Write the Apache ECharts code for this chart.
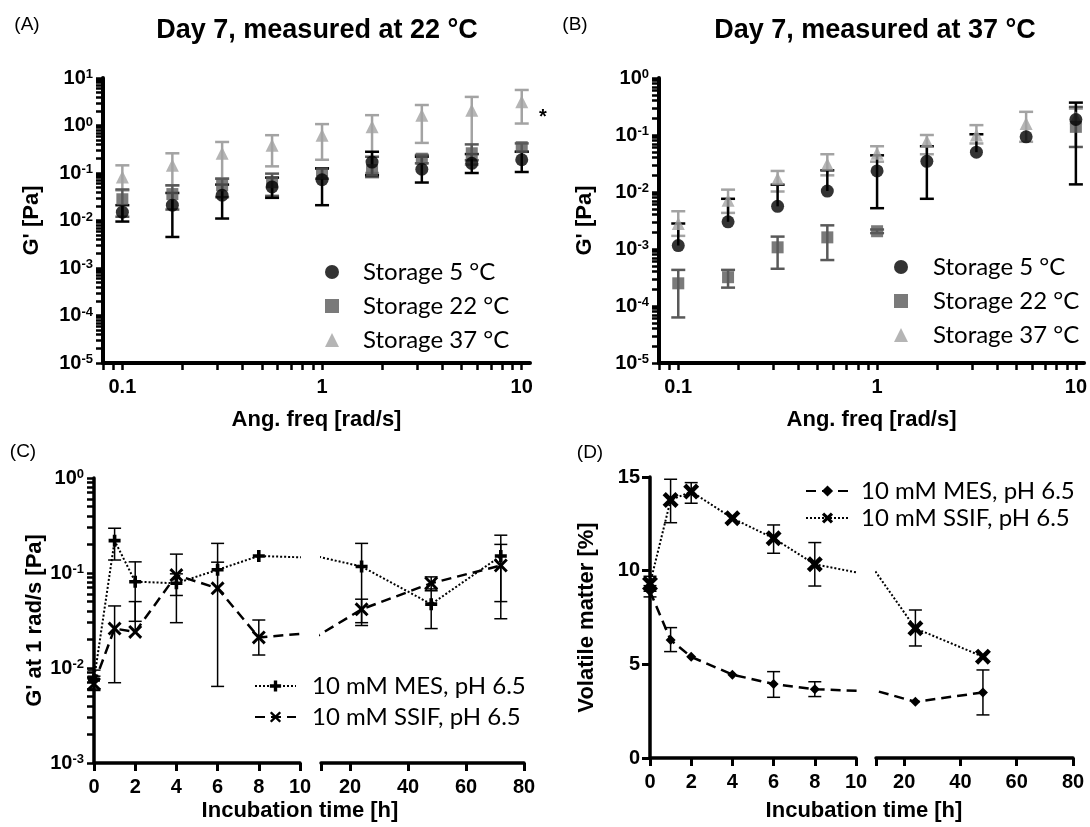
<!DOCTYPE html>
<html><head><meta charset="utf-8">
<script src="https://cdn.jsdelivr.net/npm/echarts@6/dist/echarts.min.js"></script>
<style>html,body{margin:0;padding:0;background:#fff}#c{width:1090px;height:827px}</style>
</head><body><div id="c"></div><script>
// ---------- DATA ----------
const freq = [0.1, 0.178, 0.316, 0.562, 1, 1.78, 3.16, 5.62, 10];
// Panel A (measured at 22 °C)
const a5 = [0.015, 0.021, 0.034, 0.051, 0.072, 0.17, 0.12, 0.16, 0.19];
const a5lo = [0.0095, 0.0045, 0.011, 0.030, 0.021, 0.09, 0.063, 0.10, 0.105];
const a5hi = [0.021, 0.038, 0.057, 0.08, 0.125, 0.28, 0.22, 0.25, 0.28];
const a22 = [0.028, 0.036, 0.055, 0.064, 0.098, 0.115, 0.2, 0.26, 0.35];
const a22lo = [0.012, 0.017, 0.031, 0.033, 0.076, 0.082, 0.16, 0.186, 0.28];
const a22hi = [0.045, 0.055, 0.076, 0.097, 0.125, 0.22, 0.24, 0.4, 0.42];
const a37 = [0.082, 0.145, 0.26, 0.385, 0.62, 0.94, 1.65, 2.1, 3.15];
const a37lo = [0.043, 0.055, 0.076, 0.138, 0.19, 0.1, 0.43, 0.15, 1.1];
const a37hi = [0.145, 0.26, 0.45, 0.625, 1.07, 1.65, 2.7, 4.0, 5.6];
// Panel B (measured at 37 °C)
const b5 = [0.00115, 0.0030, 0.0056, 0.0104, 0.0234, 0.0345, 0.050, 0.093, 0.187];
const b5lo = [null, null, null, null, 0.0052, 0.0076, null, null, 0.0136];
const b5hi = [0.0028, 0.0076, 0.0134, 0.024, 0.044, 0.0635, 0.103, null, 0.37];
const b22 = [0.00025, 0.00032, 0.00107, 0.0016, 0.00205, null, null, null, 0.139];
const b22lo = [0.000063, 0.00021, 0.00045, 0.00064, 0.0019, null, null, null, 0.0617];
const b22hi = [0.00043, 0.00043, 0.00165, 0.0026, 0.0022, null, null, null, 0.31];
const b37 = [0.0028, 0.0072, 0.017, 0.0306, 0.048, 0.078, 0.1, 0.159, 0.2];
const b37lo = [0.0017, 0.0043, 0.0102, 0.0196, 0.034, 0.046, 0.071, 0.076, null];
const b37hi = [0.0046, 0.011, 0.0234, 0.046, 0.0635, 0.1, 0.149, 0.255, 0.29];
// Panel C (G' at 1 rad/s)
const hoursC = [0, 1, 2, 4, 6, 8, 24, 48, 72];
const cMes = [0.0075, 0.219, 0.081, 0.078, 0.108, 0.151, 0.117, 0.047, 0.151];
const cMesLo = [0.006, 0.137, 0.031, 0.058, null, null, 0.03, 0.026, 0.05];
const cMesHi = [0.0095, 0.296, 0.131, 0.098, 0.205, null, 0.205, 0.068, 0.25];
const cSsif = [0.0068, 0.026, 0.024, 0.095, 0.069, 0.021, 0.0415, 0.078, 0.12];
const cSsifLo = [0.0058, 0.007, null, 0.03, 0.0064, 0.0137, 0.028, 0.065, 0.033];
const cSsifHi = [0.0082, 0.045, 0.05, 0.158, 0.13, 0.032, 0.053, 0.091, 0.2];
// Panel D (volatile matter %)
const hoursD = [0, 1, 2, 4, 6, 8, 24, 48];
const dMes = [8.9, 6.3, 5.4, 4.45, 3.95, 3.67, 3.0, 3.5];
const dMesLo = [8.6, 5.68, null, null, 3.24, 3.28, null, 2.3];
const dMesHi = [9.2, 6.96, null, null, 4.61, 4.07, null, 4.7];
const dSsif = [9.3, 13.77, 14.22, 12.8, 11.73, 10.34, 6.92, 5.41];
const dSsifLo = [8.9, 12.56, 13.6, null, 10.93, 9.18, 5.98, null];
const dSsifHi = [9.7, 14.88, 14.7, null, 12.44, 11.5, 7.9, null];
// tick labels
const freqLabels = [0.1, 1, 10];
const freqMinorTicks = [0.08, 0.09, 0.2, 0.3, 0.4, 0.5, 0.6, 0.7, 0.8, 0.9, 2, 3, 4, 5, 6, 7, 8, 9];
const expA = [-5, -4, -3, -2, -1, 0, 1];
const expB = [-5, -4, -3, -2, -1, 0];
const expC = [-3, -2, -1, 0];
const hourTicks2 = [20, 40, 60, 80];

// ---------- HELPERS ----------
const L = Math.log10;
const BF = 'Liberation Sans';
const LF = 'Lato';
function minorLog(from, to) { const o = []; for (let n = from; n < to; n++) for (let k = 2; k <= 9; k++) o.push(L(k) + n); return o; }
function pts(xs, ys, lx, ly) { const o = []; xs.forEach((x, i) => { if (ys[i] != null) o.push([lx ? L(x) : x, ly ? L(ys[i]) : ys[i]]); }); return o; }
function errData(xs, m, lo, hi, lx, ly, xmin, xmax) {
  const f = ly ? L : (v => v); const o = [];
  xs.forEach((x, i) => {
    if (m[i] == null) return;
    if (xmin != null && (x < xmin || x > xmax)) return;
    const hl = lo[i] != null, hh = hi[i] != null; if (!hl && !hh) return;
    o.push([lx ? L(x) : x, f(hl ? lo[i] : m[i]), f(hh ? hi[i] : m[i]), hl ? 1 : 0, hh ? 1 : 0]);
  });
  return o;
}
function errRender(capW, lw, color) {
  return function (params, api) {
    const x = api.value(0), lo = api.value(1), hi = api.value(2), hl = api.value(3), hh = api.value(4);
    const p1 = api.coord([x, lo]), p2 = api.coord([x, hi]);
    const st = { stroke: color, lineWidth: lw };
    const ch = [{ type: 'line', shape: { x1: p1[0], y1: p1[1], x2: p2[0], y2: p2[1] }, style: st }];
    if (hh) ch.push({ type: 'line', shape: { x1: p2[0] - capW / 2, y1: p2[1], x2: p2[0] + capW / 2, y2: p2[1] }, style: st });
    if (hl) ch.push({ type: 'line', shape: { x1: p1[0] - capW / 2, y1: p1[1], x2: p1[0] + capW / 2, y2: p1[1] }, style: st });
    return { type: 'group', children: ch };
  };
}
const tickFont = { color: '#000', fontSize: 20, fontWeight: 'bold', fontFamily: BF };
const nameFont = { color: '#000', fontSize: 22, fontWeight: 'bold', fontFamily: BF };
const supRich = { s: { fontSize: 13, fontWeight: 'bold', fontFamily: BF, color: '#000', verticalAlign: 'top' } };
const powFmt = v => '10{s|' + Math.round(v) + '}';
function majorAxis(o) {
  return Object.assign({
    type: 'value', splitLine: { show: false },
    axisLine: { show: true, onZero: false, lineStyle: { color: '#000', width: 4 } },
    axisTick: { show: true, length: 8, lineStyle: { color: '#000', width: 3 } },
    axisLabel: Object.assign({ margin: 14 }, tickFont),
    nameTextStyle: nameFont, nameLocation: 'middle'
  }, o);
}

const plusSym = 'path://M7,0 H13 V7 H20 V13 H13 V20 H7 V13 H0 V7 H7 Z';
const xSym = 'path://M0,3 L3,0 L10,7 L17,0 L20,3 L13,10 L20,17 L17,20 L10,13 L3,20 L0,17 L7,10 Z';
const xThick = 'path://M0,4 L4,0 L10,6 L16,0 L20,4 L14,10 L20,16 L16,20 L10,14 L4,20 L0,16 L6,10 Z';

const xMinA = L(0.08), xMaxA = L(11);
const c1 = '#000', c2 = '#595959', c3 = '#a3a3a3';

const grid = [
  { left: 103, top: 78, width: 427, height: 285 },
  { left: 659, top: 78, width: 427, height: 285 },
  { left: 94, top: 478, width: 206, height: 285 },
  { left: 321, top: 478, width: 203, height: 285 },
  { left: 650, top: 477, width: 206, height: 281 },
  { left: 876, top: 477, width: 197, height: 281 }
];

// major + log-spaced minor ticks on the same axis
const freqTickVals = freqLabels.map(v => L(v)).concat(freqMinorTicks.map(v => L(v)));
function freqAxis(g) {
  return majorAxis({ gridIndex: g, min: xMinA, max: xMaxA, position: 'bottom', name: 'Ang. freq [rad/s]', nameGap: 46,
    axisTick: { show: true, length: 7, customValues: freqTickVals, lineStyle: { color: '#000', width: 2.5 } },
    axisLabel: Object.assign({ margin: 14, customValues: freqLabels.map(v => L(v)), formatter: v => String(+Math.pow(10, v).toPrecision(3)) }, tickFont) });
}
const brokenLine = { show: true, onZero: false, lineStyle: { color: '#000', width: 3.5 } };
const xAxis = [
  freqAxis(0),
  freqAxis(1),
  majorAxis({ gridIndex: 2, min: 0, max: 10, interval: 2, position: 'bottom', axisLine: brokenLine }),
  majorAxis({ gridIndex: 3, min: 10, max: 80, position: 'bottom', axisLine: brokenLine,
    axisTick: { show: true, length: 8, customValues: [10].concat(hourTicks2), lineStyle: { color: '#000', width: 3 } },
    axisLabel: Object.assign({ margin: 14, customValues: hourTicks2 }, tickFont) }),
  majorAxis({ gridIndex: 4, min: 0, max: 10, interval: 2, position: 'bottom', axisLine: brokenLine }),
  majorAxis({ gridIndex: 5, min: 10, max: 80, position: 'bottom', axisLine: brokenLine,
    axisTick: { show: true, length: 8, customValues: [10].concat(hourTicks2), lineStyle: { color: '#000', width: 3 } },
    axisLabel: Object.assign({ margin: 14, customValues: hourTicks2 }, tickFont) })
];
function logY(g, lo, hi, exps, name, gap, lw) {
  return majorAxis({ gridIndex: g, min: lo, max: hi, position: 'left', name: name, nameGap: gap,
    axisLine: { show: true, onZero: false, lineStyle: { color: '#000', width: lw } },
    axisTick: { show: true, length: 7, customValues: exps.concat(minorLog(lo, hi)), lineStyle: { color: '#000', width: 2.5 } },
    axisLabel: Object.assign({ margin: 10, customValues: exps, formatter: powFmt, rich: supRich }, tickFont) });
}
const yAxis = [
  logY(0, -5, 1, expA, "G' [Pa]", 60, 4),
  logY(1, -5, 0, expB, "G' [Pa]", 63, 4),
  logY(2, -3, 0, expC, "G' at 1 rad/s [Pa]", 47, 3.5),
  { type: 'value', gridIndex: 3, min: -3, max: 0, show: false },
  majorAxis({ gridIndex: 4, min: 0, max: 15, interval: 5, position: 'left', name: 'Volatile matter [%]', nameGap: 52,
    axisLine: brokenLine, axisLabel: Object.assign({ margin: 10 }, tickFont) }),
  { type: 'value', gridIndex: 5, min: 0, max: 15, show: false }
];
// axis indices: A x0/y0, B x1/y1, C1 x2/y2, C2 x3/y3, D1 x4/y4, D2 x5/y5

const series = [];
function panelScatter(xi, yi, sets) {
  sets.forEach(s => {
    series.push({ type: 'custom', xAxisIndex: xi, yAxisIndex: yi, renderItem: errRender(14, 2.5, s.color),
      data: errData(freq, s.m, s.lo, s.hi, true, true), encode: { x: 0, y: [1, 2] }, silent: true });
    series.push({ type: 'scatter', name: s.name, xAxisIndex: xi, yAxisIndex: yi, symbol: s.sym, symbolSize: s.size,
      itemStyle: { color: s.color }, data: pts(freq, s.m, true, true), silent: true });
  });
}
panelScatter(0, 0, [
  { name: 'Storage 37 °C', m: a37, lo: a37lo, hi: a37hi, color: c3, sym: 'triangle', size: 13 },
  { name: 'Storage 22 °C', m: a22, lo: a22lo, hi: a22hi, color: c2, sym: 'rect', size: 12 },
  { name: 'Storage 5 °C', m: a5, lo: a5lo, hi: a5hi, color: c1, sym: 'circle', size: 13 }
]);
panelScatter(1, 1, [
  { name: 'Storage 37 °C', m: b37, lo: b37lo, hi: b37hi, color: c3, sym: 'triangle', size: 13 },
  { name: 'Storage 22 °C', m: b22, lo: b22lo, hi: b22hi, color: c2, sym: 'rect', size: 12 },
  { name: 'Storage 5 °C', m: b5, lo: b5lo, hi: b5hi, color: c1, sym: 'circle', size: 13 }
]);

function brokenLines(segs, xs, sets, logy) {
  sets.forEach(s => {
    segs.forEach(g => {
      series.push({ type: 'custom', xAxisIndex: g.x, yAxisIndex: g.y, renderItem: errRender(13, 1.5, '#000'),
        data: errData(xs, s.m, s.lo, s.hi, false, logy, g.min, g.max), encode: { x: 0, y: [1, 2] }, silent: true, z: 3 });
      series.push({ type: 'line', name: s.name, xAxisIndex: g.x, yAxisIndex: g.y, data: pts(xs, s.m, false, logy),
        symbol: s.sym, symbolSize: s.size, showSymbol: true, showAllSymbol: true, clip: true, silent: true,
        itemStyle: { color: '#000' }, lineStyle: { color: '#000', width: s.lw, type: s.type }, z: 4 });
    });
  });
}
brokenLines([{ x: 2, y: 2, min: 0, max: 10 }, { x: 3, y: 3, min: 10.5, max: 80 }], hoursC, [
  { name: '10 mM MES, pH 6.5', m: cMes, lo: cMesLo, hi: cMesHi, sym: plusSym, size: 12, lw: 2, type: 'dotted' },
  { name: '10 mM SSIF, pH 6.5', m: cSsif, lo: cSsifLo, hi: cSsifHi, sym: xSym, size: 14, lw: 2.5, type: [10, 6] }
], true);
brokenLines([{ x: 4, y: 4, min: 0, max: 10 }, { x: 5, y: 5, min: 10.5, max: 80 }], hoursD, [
  { name: '10 mM MES, pH 6.5 ', m: dMes, lo: dMesLo, hi: dMesHi, sym: 'diamond', size: 10, lw: 2.5, type: [10, 6] },
  { name: '10 mM SSIF, pH 6.5 ', m: dSsif, lo: dSsifLo, hi: dSsifHi, sym: xThick, size: 16, lw: 2, type: 'dotted' }
], false);

const legTxt = { fontFamily: LF, fontSize: 24, color: '#000' };
const legend = [
  { data: ['Storage 5 °C', 'Storage 22 °C', 'Storage 37 °C'], orient: 'vertical', left: 325, top: 260, padding: 0,
    itemWidth: 14, itemHeight: 14, itemGap: 10, selectedMode: false, textStyle: Object.assign({ padding: [0, 0, 0, 19] }, legTxt) },
  { data: ['Storage 5 °C', 'Storage 22 °C', 'Storage 37 °C'], orient: 'vertical', left: 894, top: 255, padding: 0,
    itemWidth: 14, itemHeight: 14, itemGap: 10, selectedMode: false, textStyle: Object.assign({ padding: [0, 0, 0, 20] }, legTxt) },
  { data: ['10 mM MES, pH 6.5', '10 mM SSIF, pH 6.5'], orient: 'vertical', left: 254, top: 674, padding: 0,
    itemWidth: 41, itemHeight: 14, itemGap: 7, selectedMode: false, textStyle: Object.assign({ padding: [0, 0, 0, 11] }, legTxt) },
  { data: ['10 mM MES, pH 6.5 ', '10 mM SSIF, pH 6.5 '], orient: 'vertical', left: 805, top: 479, padding: 0,
    itemWidth: 43, itemHeight: 14, itemGap: 3, selectedMode: false, formatter: n => n.trim(), textStyle: Object.assign({ padding: [0, 0, 0, 7] }, legTxt) }
];

function txt(x, y, t, size, weight, family) {
  return { type: 'text', x: x, y: y, silent: true,
    style: { text: t, fill: '#000', fontSize: size, fontWeight: weight, fontFamily: family,
      textAlign: 'center', textVerticalAlign: 'middle', align: 'center', verticalAlign: 'middle' } };
}
const graphic = [
  txt(27, 25, '(A)', 19, 'normal', BF),
  txt(575, 25, '(B)', 19, 'normal', BF),
  txt(23, 452, '(C)', 19, 'normal', BF),
  txt(590, 453, '(D)', 19, 'normal', BF),
  txt(317, 31, 'Day 7, measured at 22 °C', 27, 'bold', BF),
  txt(875, 31, 'Day 7, measured at 37 °C', 27, 'bold', BF),
  txt(543, 117, '*', 20, 'bold', BF),
  txt(300, 811, 'Incubation time [h]', 22, 'bold', BF),
  txt(864, 811, 'Incubation time [h]', 22, 'bold', BF)
];

const chart = echarts.init(document.getElementById('c'), null, { renderer: 'canvas' });
chart.setOption({ backgroundColor: '#fff', animation: false, grid, xAxis, yAxis, series, legend, graphic });
</script></body></html>
